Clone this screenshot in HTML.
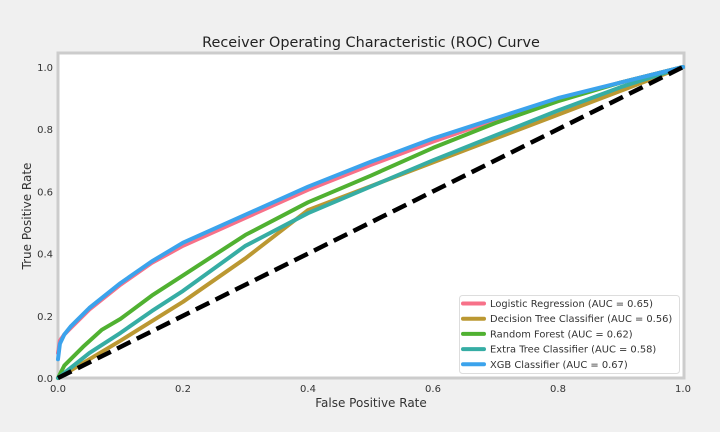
<!DOCTYPE html>
<html><head><meta charset="utf-8"><style>
body{margin:0;background:#f0f0f0;font-family:"DejaVu Sans","Liberation Sans",sans-serif}
svg{display:block}
</style></head><body>
<svg id="chart" width="720" height="432" font-family="DejaVu Sans, Liberation Sans, sans-serif">
<rect x="0" y="0" width="720" height="432" fill="#f0f0f0"/>
<rect x="58" y="53" width="626" height="325" fill="#fff" stroke="#cccccc" stroke-width="3"/>
<text x="371" y="47" text-anchor="middle" font-size="14.4" fill="#222">Receiver Operating Characteristic (ROC) Curve</text>
<text x="371" y="407" text-anchor="middle" font-size="12" fill="#333">False Positive Rate</text>
<text x="31" y="216" text-anchor="middle" font-size="12" fill="#333" transform="rotate(-90 31 216)">True Positive Rate</text>
<g id="ticks"></g>
<g id="series"></g>
<g id="legend"></g>
</svg>
<script>
const xTicks=[0,0.2,0.4,0.6,0.8,1.0];
const yTicks=[0,0.2,0.4,0.6,0.8,1.0];
const names=["Logistic Regression (AUC = 0.65)","Decision Tree Classifier (AUC = 0.56)","Random Forest (AUC = 0.62)","Extra Tree Classifier (AUC = 0.58)","XGB Classifier (AUC = 0.67)"];
const colors=["#f77189","#bb9832","#50b131","#36ada4","#3ba3ec"];
const lrX=[0,0.003,0.01,0.02,0.05,0.1,0.15,0.2,0.3,0.4,0.5,0.6,0.7,0.8,0.9,1];
const lrY=[0.08,0.12,0.14,0.16,0.22,0.3,0.37,0.425,0.515,0.605,0.685,0.76,0.83,0.895,0.95,1];
const dtX=[0,0.1,0.2,0.3,0.4,1];
const dtY=[0,0.12,0.245,0.385,0.54,1];
const rfX=[0,0.01,0.04,0.07,0.1,0.15,0.2,0.3,0.4,0.5,0.6,0.7,0.8,0.9,1];
const rfY=[0,0.04,0.1,0.155,0.19,0.265,0.33,0.46,0.565,0.65,0.74,0.82,0.89,0.95,1];
const etX=[0,0.05,0.1,0.15,0.2,0.3,0.4,0.5,0.6,0.7,0.8,0.9,1];
const etY=[0,0.08,0.145,0.215,0.28,0.425,0.53,0.615,0.70,0.78,0.86,0.935,1];
const xgX=[0,0.003,0.01,0.02,0.05,0.1,0.15,0.2,0.3,0.4,0.5,0.6,0.7,0.8,0.9,1];
const xgY=[0.06,0.11,0.14,0.165,0.225,0.305,0.375,0.435,0.525,0.615,0.695,0.77,0.835,0.9,0.95,1];
const diagX=[0,1];
const diagY=[0,1];
const X=v=>58+v*625, Y=v=>378-v*311;
const NS="http://www.w3.org/2000/svg";
function mk(t,a,p){const e=document.createElementNS(NS,t);for(const k in a)e.setAttribute(k,a[k]);p.appendChild(e);return e;}
const tk=document.getElementById('ticks');
xTicks.forEach(v=>{const t=mk('text',{x:X(v),y:392,'text-anchor':'middle','font-size':10,fill:'#333'},tk);t.textContent=v.toFixed(1);

});
yTicks.forEach(v=>{const t=mk('text',{x:53,y:Y(v)+4,'text-anchor':'end','font-size':10,fill:'#333'},tk);t.textContent=v.toFixed(1);

});
const sg=document.getElementById('series');
const series=[[lrX,lrY],[dtX,dtY],[rfX,rfY],[etX,etY],[xgX,xgY]];
const snames=['logistic-regression-line','decision-tree-line','random-forest-line','extra-tree-line','xgb-line'];
series.forEach((s,i)=>{const d=s[0].map((x,j)=>(j?'L':'M')+X(x).toFixed(1)+','+Y(s[1][j]).toFixed(1)).join('');
const p=mk('path',{d:d,fill:'none',stroke:colors[i],'stroke-width':4,'stroke-linejoin':'round','stroke-linecap':'round'},sg);

});
const dp=mk('path',{d:'M'+X(diagX[0])+','+Y(diagY[0])+'L'+X(diagX[1])+','+Y(diagY[1]),stroke:'#000','stroke-width':4.5,'stroke-dasharray':'15,7',fill:'none'},sg);


const lg=document.getElementById('legend');
const box=mk('rect',{x:459.5,y:295.5,width:220,height:78,rx:3,fill:'#fff','fill-opacity':0.9,stroke:'#ddd'},lg);


names.forEach((n,i)=>{const y=303.5+i*15.2;
const l=mk('line',{x1:463,x2:484,y1:y,y2:y,stroke:colors[i],'stroke-width':4,'stroke-linecap':'round'},lg);


const t=mk('text',{x:490,y:y+3.5,'font-size':9.9,fill:'#333'},lg);t.textContent=n;

});
</script>
</body></html>
